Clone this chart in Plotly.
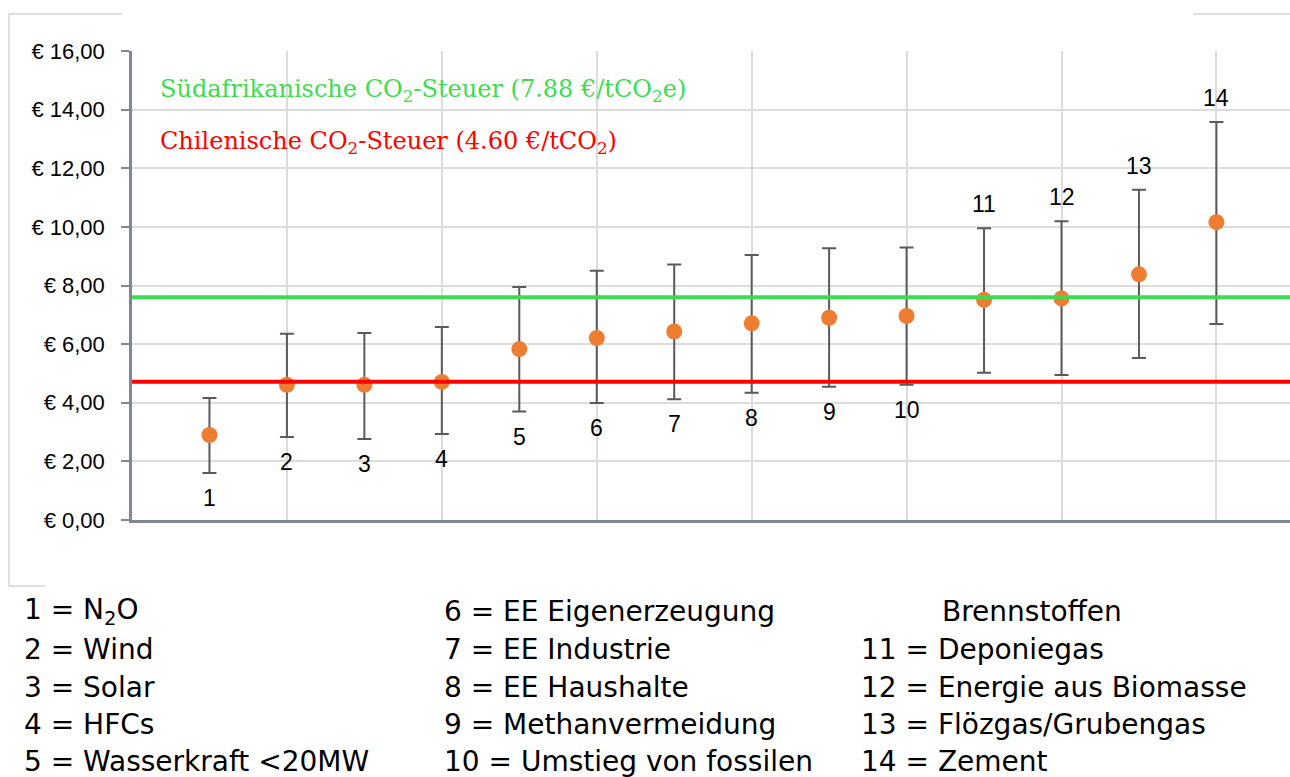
import plotly.graph_objects as go

# ---- data ----
categories = list(range(1, 15))
mean_cost = [2.90, 4.61, 4.61, 4.71, 5.83, 6.21, 6.43, 6.71, 6.90, 6.96, 7.51, 7.56, 8.38, 10.16]
upper_cost = [4.16, 6.35, 6.38, 6.58, 7.95, 8.50, 8.72, 9.04, 9.27, 9.30, 9.95, 10.19, 11.27, 13.58]
lower_cost = [1.60, 2.83, 2.76, 2.93, 3.70, 3.99, 4.12, 4.34, 4.55, 4.61, 5.02, 4.95, 5.53, 6.69]
labels_above = [11, 12, 13, 14]

south_africa_tax_line = 7.60
chile_tax_line = 4.72
south_africa_text = "Südafrikanische CO<sub>2</sub>-Steuer (7.88 €/tCO<sub>2</sub>e)"
chile_text = "Chilenische CO<sub>2</sub>-Steuer (4.60 €/tCO<sub>2</sub>)"

y_tick_vals = [0, 2, 4, 6, 8, 10, 12, 14, 16]
y_tick_text = ["€ 0,00", "€ 2,00", "€ 4,00", "€ 6,00", "€ 8,00", "€ 10,00", "€ 12,00", "€ 14,00", "€ 16,00"]

legend_col1 = ["1 = N<sub>2</sub>O", "2 = Wind", "3 = Solar", "4 = HFCs", "5 = Wasserkraft &lt;20MW"]
legend_col2 = ["6 = EE Eigenerzeugung", "7 = EE Industrie", "8 = EE Haushalte", "9 = Methanvermeidung",
               "10 = Umstieg von fossilen"]
legend_col3 = ["Brennstoffen", "11 = Deponiegas", "12 = Energie aus Biomasse", "13 = Flözgas/Grubengas",
               "14 = Zement"]

# ---- layout geometry ----
W, H = 1290, 777
ML, MR, MT, MB = 132, 0, 51, 257
PW, PH = W - ML - MR, H - MT - MB


def px(xp):
    return (xp - ML) / PW


def py(yp):
    return (H - MB - yp) / PH


AXIS = "#7d8796"
GRID = "#dcdcdc"
ORANGE = "#ED7D31"
GREEN = "#3ddc4e"
RED = "#ff0000"

fig = go.Figure()
fig.add_trace(go.Scatter(
    x=categories, y=mean_cost, mode="markers",
    marker=dict(color=ORANGE, size=16),
    error_y=dict(type="data", symmetric=False,
                 array=[u - m for u, m in zip(upper_cost, mean_cost)],
                 arrayminus=[m - l for m, l in zip(mean_cost, lower_cost)],
                 color="#5a5a5a", thickness=2, width=7),
    showlegend=False, hoverinfo="skip",
))

shapes = [
    dict(type="line", xref="paper", x0=0, x1=1, yref="y", y0=south_africa_tax_line, y1=south_africa_tax_line,
         line=dict(color=GREEN, width=4), layer="above"),
    dict(type="line", xref="paper", x0=0, x1=1, yref="y", y0=chile_tax_line, y1=chile_tax_line,
         line=dict(color=RED, width=4), layer="above"),
    # partial outer frame
    dict(type="line", xref="paper", yref="paper", x0=px(8), x1=px(122), y0=py(14), y1=py(14),
         line=dict(color="#e0e0e0", width=2)),
    dict(type="line", xref="paper", yref="paper", x0=px(1193), x1=px(1292), y0=py(14), y1=py(14),
         line=dict(color="#e0e0e0", width=2)),
    dict(type="line", xref="paper", yref="paper", x0=px(9), x1=px(9), y0=py(14), y1=py(586),
         line=dict(color="#e0e0e0", width=2)),
    dict(type="line", xref="paper", yref="paper", x0=px(8), x1=px(45), y0=py(586), y1=py(586),
         line=dict(color="#e0e0e0", width=2)),
]

annotations = [
    dict(text=south_africa_text, xref="paper", yref="paper", x=px(158), y=py(90), xanchor="left",
         yanchor="middle", showarrow=False, font=dict(family="DejaVu Serif", size=24, color=GREEN)),
    dict(text=chile_text, xref="paper", yref="paper", x=px(158), y=py(143), xanchor="left",
         yanchor="middle", showarrow=False, font=dict(family="DejaVu Serif", size=24, color=RED)),
]

for c, lo, hi in zip(categories, lower_cost, upper_cost):
    above = c in labels_above
    annotations.append(dict(
        text=str(c), x=c, y=hi if above else lo, xref="x", yref="y",
        yshift=24 if above else -25, showarrow=False, yanchor="middle",
        font=dict(family="Liberation Sans", size=23, color="black")))

row_y = [611, 649, 687, 724, 761]
for col_items, col_x in ((legend_col1, 22), (legend_col2, 442), (legend_col3, 859)):
    for i, t in enumerate(col_items):
        x0 = col_x
        if t == "Brennstoffen":
            x0 = 940
        annotations.append(dict(
            text=t, xref="paper", yref="paper", x=px(x0), y=py(row_y[i]), xanchor="left", yanchor="middle",
            showarrow=False, font=dict(family="DejaVu Sans", size=28, color="black")))

fig.update_layout(
    width=W, height=H,
    margin=dict(l=ML, r=MR, t=MT, b=MB, pad=0),
    paper_bgcolor="white", plot_bgcolor="white",
    xaxis=dict(range=[0, 14.95], tick0=0, dtick=2, showticklabels=False, ticks="",
               showgrid=True, gridcolor=GRID, gridwidth=2, zeroline=False,
               showline=True, linecolor=AXIS, linewidth=2.5, fixedrange=True),
    yaxis=dict(range=[0, 16], tickvals=y_tick_vals, ticktext=y_tick_text,
               ticks="outside", ticklen=8, tickcolor=AXIS, tickwidth=2,
               ticklabelstandoff=12,
               tickfont=dict(family="Liberation Sans", size=22, color="black"),
               showgrid=True, gridcolor=GRID, gridwidth=2, zeroline=False,
               showline=True, linecolor=AXIS, linewidth=2.5, fixedrange=True),
    shapes=shapes, annotations=annotations,
)

fig.write_html(
    "out.html",
    config={"displayModeBar": False},
    post_script="document.body.style.margin='0';document.body.style.overflow='hidden';",
)
